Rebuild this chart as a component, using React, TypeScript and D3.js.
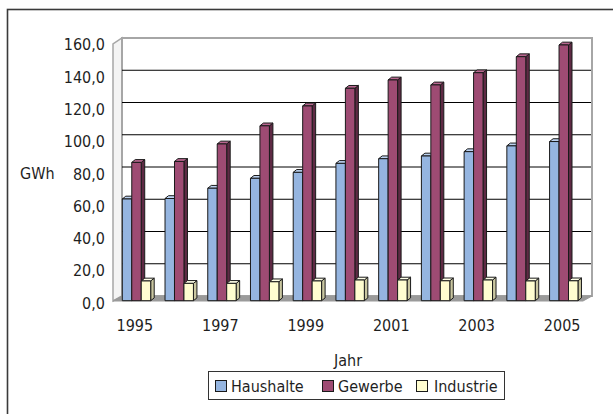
import React from "react";
import * as d3 from "d3";

const years = ["1995","1996","1997","1998","1999","2000","2001","2002","2003","2004","2005"];
const seriesNames = ["Haushalte", "Gewerbe", "Industrie"];
const haushalte = [63.4, 63.7, 70.1, 76.3, 80.0, 85.6, 88.5, 90.2, 92.9, 96.5, 99.2];
const gewerbe = [86.2, 86.8, 97.7, 109.0, 121.4, 132.4, 137.6, 134.5, 142.1, 152.1, 159.4];
const industrie = [12.3, 10.8, 10.8, 11.8, 12.3, 12.9, 12.9, 12.4, 12.9, 12.3, 12.4];
const yTicks = [0, 20, 40, 60, 80, 100, 120, 140, 160];
const xLabelYears = ["1995", "1997", "1999", "2001", "2003", "2005"];

const seriesValues = [haushalte, gewerbe, industrie];
const frontColors = ["#95B5E0", "#9E4B73", "#FFFDD0"];
const topColors = ["#BCD2F0", "#B8668F", "#FFFFE8"];
const sideColors = ["#6A86AD", "#5E2A44", "#C9C6A0"];

const FONT = "'DejaVu Sans Condensed', 'DejaVu Sans', sans-serif";
const FS = 16;

export default function App() {
  const W = 613, H = 414;
  const depthX = 9;
  const fx0 = 113, fx1 = 583;
  const frontBottom = 301;

  const xBand = d3.scaleBand<string>().domain(years).range([fx0, fx1]);
  const groupOffset = 9.3;
  const groupWidth = 28.4;
  const inner = d3.scaleBand<string>().domain(seriesNames).range([0, groupWidth]);

  const yBack = d3.scaleLinear().domain([0, 160]).range([296, 38]);
  const yFront = d3.scaleLinear().domain([0, 160]).range([300.7, 44]);
  const yLabel = d3.scaleLinear().domain([0, 160]).range([303, 44.5]);

  const de = d3.formatLocale({ decimal: ",", thousands: ".", grouping: [3], currency: ["", "€"] });
  const fmt = de.format(".1f");

  const bdx = 3.5, bdy = 2.8;

  const bars: React.ReactNode[] = [];
  years.forEach((yr, i) => {
    seriesNames.forEach((s, si) => {
      const v = seriesValues[si][i];
      const x = (xBand(yr) as number) + groupOffset + (inner(s) as number);
      const w = inner.bandwidth();
      const yt = yFront(v);
      const yb = yFront(0);
      bars.push(
        <g key={yr + s} stroke="#1a1a1a" strokeWidth={1} strokeLinejoin="round">
          <polygon
            points={`${x + w},${yt} ${x + w + bdx},${yt - bdy} ${x + w + bdx},${yb - bdy} ${x + w},${yb}`}
            fill={sideColors[si]}
          />
          <polygon
            points={`${x},${yt} ${x + bdx},${yt - bdy} ${x + w + bdx},${yt - bdy} ${x + w},${yt}`}
            fill={topColors[si]}
          />
          <rect x={x} y={yt} width={w} height={yb - yt} fill={frontColors[si]} />
        </g>
      );
    });
  });

  const legendItems = [
    { name: "Haushalte", sx: 215, tx: 231 },
    { name: "Gewerbe", sx: 322, tx: 338 },
    { name: "Industrie", sx: 416, tx: 434 },
  ];

  const textProps = { fontFamily: FONT, fontSize: FS, fill: "#1f1f1f" };

  return (
    <svg width={W} height={H} style={{ position: "absolute", left: 0, top: 0, background: "#fff" }}>
      <rect x={0} y={0} width={W} height={H} fill="#fff" />
      <rect x={7.5} y={9.5} width={W + 10} height={H + 10} fill="none" stroke="#3a3a3a" strokeWidth={1.6} />

      <polygon
        points={`${fx0},${frontBottom} ${fx0},${yFront(160)} ${fx0 + depthX},${yBack(160)} ${fx0 + depthX},${yBack(0)}`}
        fill="#f4f4f4"
        stroke="#a6a6a6"
        strokeWidth={1.5}
      />
      <rect x={fx0 + depthX} y={yBack(160)} width={fx1 - fx0} height={yBack(0) - yBack(160)} fill="#fff" stroke="#a6a6a6" strokeWidth={2} />
      {yTicks.filter((t) => t > 0 && t < 160).map((t) => (
        <line key={t} x1={fx0 + depthX} x2={fx1 + depthX - 1} y1={yBack(t)} y2={yBack(t)} stroke="#000" strokeWidth={1} />
      ))}
      <polygon
        points={`${fx0},${frontBottom} ${fx0 + depthX},${yBack(0)} ${fx1 + depthX},${yBack(0)} ${fx1},${frontBottom}`}
        fill="#9a9a9a"
        stroke="#9a9a9a"
        strokeWidth={1}
      />

      {bars}

      {yTicks.map((t) => (
        <text key={t} x={105} y={yLabel(t)} dy="0.36em" textAnchor="end" {...textProps}>
          {fmt(t)}
        </text>
      ))}
      <text x={20} y={173} dy="0.36em" {...textProps}>GWh</text>

      {xLabelYears.map((yr) => (
        <text key={yr} x={(xBand(yr) as number) + xBand.bandwidth() / 2 + 0.5} y={325} dy="0.36em" textAnchor="middle" {...textProps}>
          {yr}
        </text>
      ))}
      <text x={348} y={360.5} dy="0.36em" textAnchor="middle" {...textProps}>Jahr</text>

      <rect x={208.5} y={371.5} width={296} height={28} fill="#fff" stroke="#333" strokeWidth={1} />
      {legendItems.map((it, i) => (
        <g key={it.name}>
          <rect x={it.sx + 0.5} y={380.5} width={11} height={11} fill={frontColors[i]} stroke="#1a1a1a" strokeWidth={1} />
          <text x={it.tx} y={386} dy="0.36em" {...textProps}>{it.name}</text>
        </g>
      ))}
    </svg>
  );
}
